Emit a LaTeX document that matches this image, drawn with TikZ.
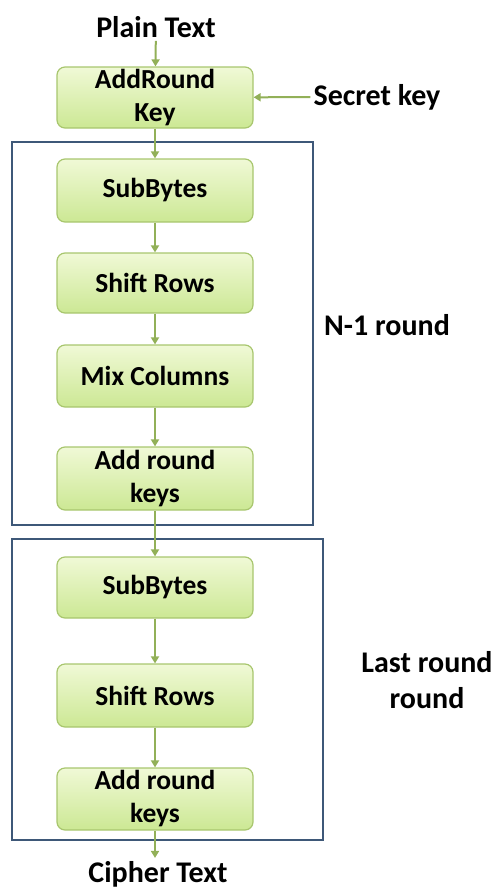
\documentclass[tikz,border=0pt]{standalone}
\usepackage{fontspec}
\setmainfont{Carlito}
\usetikzlibrary{arrows.meta}
\definecolor{boxtop}{RGB}{240,249,214}
\definecolor{boxbot}{RGB}{204,232,148}
\definecolor{boxline}{RGB}{168,198,110}
\definecolor{arrowgreen}{RGB}{146,176,88}
\definecolor{framegray}{RGB}{62,88,120}

\begin{document}
\begin{tikzpicture}[x=1pt,y=-1pt,
  stepbox/.style={draw=boxline,line width=1.2pt,rounded corners=8pt,
    top color=boxtop,bottom color=boxbot,minimum width=196pt,
    inner sep=0pt,align=center,font=\fontsize{27.5}{33}\selectfont\bfseries},
  label/.style={inner sep=3pt,align=center,font=\fontsize{30}{36}\selectfont\bfseries},
  flow/.style={draw=arrowgreen,line width=2pt,-{Triangle[width=8pt,length=7pt]}},
  frame/.style={draw=framegray,line width=2pt}]
\useasboundingbox (0,0) rectangle (494,892);

   \node[label] (plain) at (156,27) {Plain Text};
   \node[stepbox,minimum height=61pt] (ark) at (155,97.5) {AddRound\\Key};
   \node[label] (secret) at (377,97) {Secret key};

                  \draw[frame] (12,142) rectangle (313,525);
   \node[stepbox,minimum height=63pt] (sb1) at (155,190.5) {SubBytes};
   \node[stepbox,minimum height=60pt] (sr1) at (155,283) {Shift Rows};
   \node[stepbox,minimum height=62pt] (mc1) at (155,376) {Mix Columns};
   \node[stepbox,minimum height=63pt] (ar1) at (155,478.5) {Add round\\keys};
   \node[label] (nround) at (387,325) {N-1 round};

                  \draw[frame] (12,539) rectangle (323,840);
   \node[stepbox,minimum height=61pt] (sb2) at (155,587.5) {SubBytes};
   \node[stepbox,minimum height=63pt] (sr2) at (155,695.5) {Shift Rows};
   \node[stepbox,minimum height=62pt] (ar2) at (155,799) {Add round\\keys};
   \node[label] (lround) at (427,680) {Last round\\round};

   \node[label] (cipher) at (158,874) {Cipher Text};

\draw[flow] (plain) -- (ark);
\draw[flow] (secret) -- (ark);
\draw[flow] (ark) -- (sb1);
\draw[flow] (sb1) -- (sr1);
\draw[flow] (sr1) -- (mc1);
\draw[flow] (mc1) -- (ar1);
\draw[flow] (ar1) -- (sb2);
\draw[flow] (sb2) -- (sr2);
\draw[flow] (sr2) -- (ar2);
\draw[flow] (ar2.south) -- (cipher.north -| ar2.south);

\end{tikzpicture}
\end{document}
